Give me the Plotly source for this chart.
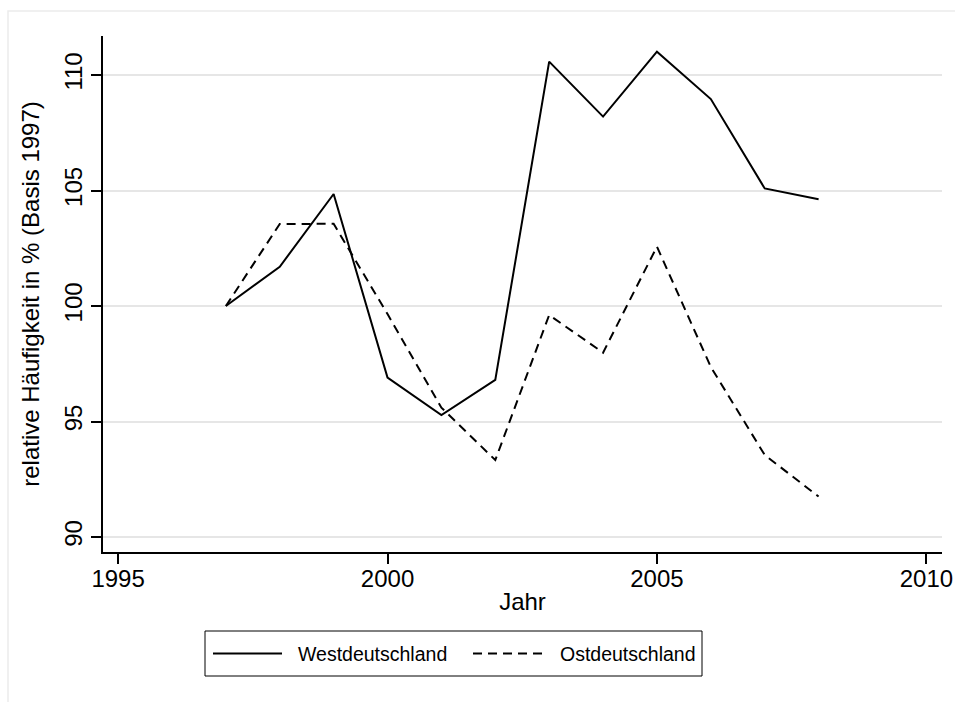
import plotly.graph_objects as go

# Jahresreihen (Basis 1997 = 100)
jahre = [1997, 1998, 1999, 2000, 2001, 2002, 2003, 2004, 2005, 2006, 2007, 2008]
west = [100.0, 101.7, 104.85, 96.9, 95.28, 96.8, 110.58, 108.2, 111.01, 108.96, 105.09, 104.62]
ost = [100.0, 103.55, 103.56, 99.65, 95.6, 93.33, 99.61, 97.98, 102.57, 97.36, 93.55, 91.75]

x_ticks = [1995, 2000, 2005, 2010]
y_ticks = [90, 95, 100, 105, 110]

serien = [
    ("Westdeutschland", west, "solid"),
    ("Ostdeutschland", ost, "9px,6px"),
]

FONT = "Liberation Sans, Arial, sans-serif"

fig = go.Figure()
for name, werte, dash in serien:
    fig.add_trace(go.Scatter(
        x=jahre, y=werte, mode="lines", name=name, showlegend=False,
        line=dict(color="black", width=2, dash=dash),
    ))

axis_common = dict(
    showline=True, linecolor="black", linewidth=1.5,
    ticks="outside", ticklen=10, tickwidth=1.5, tickcolor="black",
    tickfont=dict(family=FONT, size=24, color="black"),
    zeroline=False, automargin=False,
)

fig.update_xaxes(
    range=[1994.72, 2010.29], tickvals=x_ticks, showgrid=False,
    ticklabelstandoff=-6,
    title=dict(text="Jahr", font=dict(family=FONT, size=24, color="black"), standoff=3),
    **axis_common,
)
fig.update_yaxes(
    range=[89.35, 111.69], tickvals=y_ticks, showgrid=True,
    gridcolor="#e6e6e6", gridwidth=1.5, tickangle=-90,
    title=dict(text="relative Häufigkeit in % (Basis 1997)",
               font=dict(family=FONT, size=24, color="black"), standoff=13),
    **axis_common,
)

# Pixel -> Papierkoordinaten für Elemente außerhalb der Zeichenfläche
L, R, T, B = 103, 13, 36, 150
W, H = 955, 702
pw, ph = W - L - R, H - T - B


def px(x):
    return (x - L) / pw


def py(y):
    return (H - B - y) / ph


# heller Rahmen des Grafikbereichs
fig.add_shape(type="rect", xref="paper", yref="paper",
              x0=px(8), x1=px(990), y0=py(740), y1=py(11),
              line=dict(color="#ebebeb", width=1.5), fillcolor="rgba(0,0,0,0)",
              layer="below")

# Legende: Rahmen, Linienmuster und Beschriftung
fig.add_shape(type="rect", xref="paper", yref="paper",
              x0=px(205), x1=px(702), y0=py(676), y1=py(631),
              line=dict(color="black", width=1), fillcolor="white")
legend_pos = [(213, 282, 296), (473, 546, 558)]
for (name, _, dash), (lx0, lx1, tx) in zip(serien, legend_pos):
    fig.add_shape(type="line", xref="paper", yref="paper",
                  x0=px(lx0), x1=px(lx1), y0=py(653.5), y1=py(653.5),
                  line=dict(color="black", width=2, dash=dash))
    fig.add_annotation(text=name, xref="paper", yref="paper",
                       x=px(tx), y=py(653.5), xanchor="left", yanchor="middle",
                       showarrow=False,
                       font=dict(family=FONT, size=19.5, color="black"))

fig.update_layout(
    width=W, height=H,
    margin=dict(l=L, r=R, t=T, b=B),
    paper_bgcolor="white", plot_bgcolor="white",
    font=dict(family=FONT, color="black"),
    showlegend=False,
)

fig.write_html("out.html")
